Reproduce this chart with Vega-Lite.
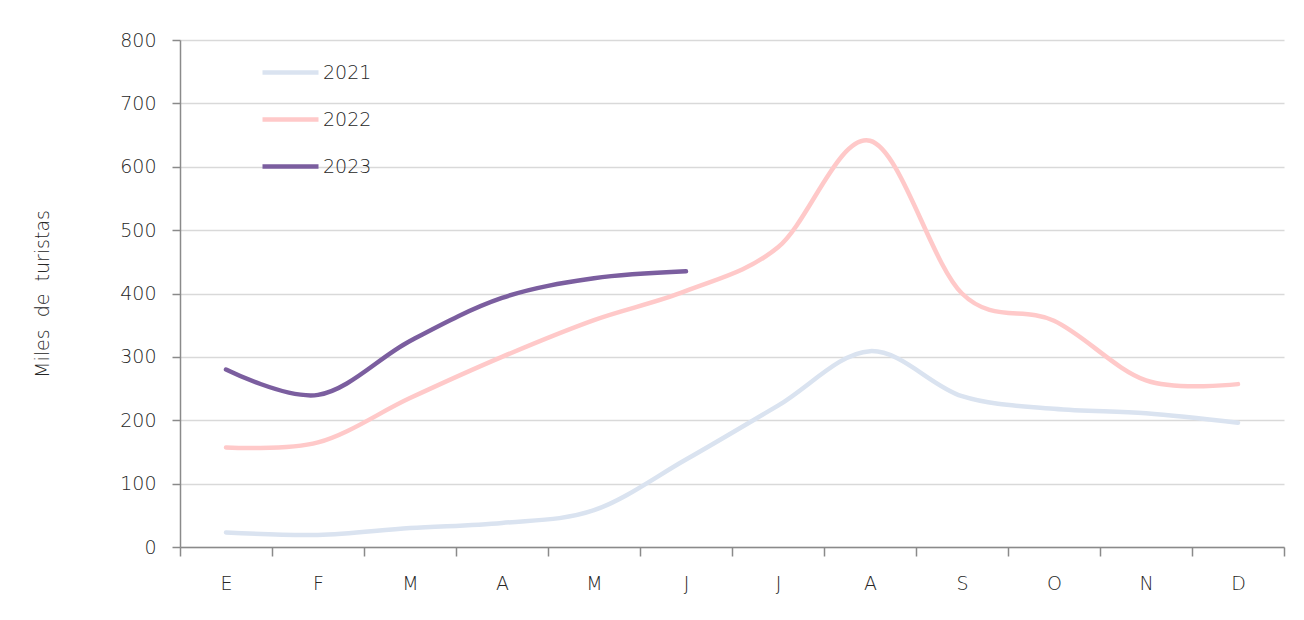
{
  "$schema": "https://vega.github.io/schema/vega-lite/v6.json",
  "width": 1104,
  "height": 507,
  "autosize": {"type": "none"},
  "padding": {"left": 180, "top": 40, "right": 20, "bottom": 73},
  "background": "white",
  "data": {
    "values": [
      {"m": 1, "year": "2021", "v": 23},
      {"m": 2, "year": "2021", "v": 19},
      {"m": 3, "year": "2021", "v": 30},
      {"m": 4, "year": "2021", "v": 38},
      {"m": 5, "year": "2021", "v": 58},
      {"m": 6, "year": "2021", "v": 138},
      {"m": 7, "year": "2021", "v": 223},
      {"m": 8, "year": "2021", "v": 309},
      {"m": 9, "year": "2021", "v": 238},
      {"m": 10, "year": "2021", "v": 218},
      {"m": 11, "year": "2021", "v": 211},
      {"m": 12, "year": "2021", "v": 196},
      {"m": 1, "year": "2022", "v": 157},
      {"m": 2, "year": "2022", "v": 165},
      {"m": 3, "year": "2022", "v": 235},
      {"m": 4, "year": "2022", "v": 300},
      {"m": 5, "year": "2022", "v": 358},
      {"m": 6, "year": "2022", "v": 404},
      {"m": 7, "year": "2022", "v": 473},
      {"m": 8, "year": "2022", "v": 641},
      {"m": 9, "year": "2022", "v": 400},
      {"m": 10, "year": "2022", "v": 357},
      {"m": 11, "year": "2022", "v": 263},
      {"m": 12, "year": "2022", "v": 257},
      {"m": 1, "year": "2023", "v": 280},
      {"m": 2, "year": "2023", "v": 240},
      {"m": 3, "year": "2023", "v": 325},
      {"m": 4, "year": "2023", "v": 393},
      {"m": 5, "year": "2023", "v": 424},
      {"m": 6, "year": "2023", "v": 435}
    ]
  },
  "mark": {"type": "line", "interpolate": "cardinal", "strokeCap": "round", "strokeJoin": "round"},
  "encoding": {
    "x": {
      "field": "m",
      "type": "ordinal",
      "scale": {"type": "band", "paddingInner": 0, "paddingOuter": 0},
      "axis": {
        "title": null,
        "labelAngle": 0,
        "labelExpr": "['E','F','M','A','M','J','J','A','S','O','N','D'][datum.value-1]",
        "tickBand": "extent",
        "tickSize": 9,
        "labelPadding": 18,
        "grid": false
      }
    },
    "y": {
      "field": "v",
      "type": "quantitative",
      "scale": {"domain": [0, 800]},
      "axis": {
        "title": "Miles\u00a0 de\u00a0 turistas",
        "values": [0, 100, 200, 300, 400, 500, 600, 700, 800],
        "tickSize": 8,
        "labelPadding": 16,
        "titlePadding": 67,
        "grid": true
      }
    },
    "stroke": {
      "field": "year",
      "type": "nominal",
      "scale": {"domain": ["2021", "2022", "2023"], "range": ["#dae3f0", "#ffc9c9", "#7b5e9f"]},
      "legend": {
        "title": null,
        "orient": "none",
        "legendX": 80,
        "legendY": 2,
        "symbolType": "stroke",
        "symbolSize": 3136,
        "rowPadding": 6,
        "labelOffset": 2,
        "padding": 0,
        "offset": 0
      }
    },
    "strokeWidth": {
      "field": "year",
      "type": "nominal",
      "scale": {"domain": ["2021", "2022", "2023"], "range": [4.5, 4.5, 6]},
      "legend": {
        "title": null,
        "orient": "none",
        "legendX": 80,
        "legendY": 2,
        "symbolType": "stroke",
        "symbolSize": 3136,
        "rowPadding": 6,
        "labelOffset": 2,
        "padding": 0,
        "offset": 0
      }
    }
  },
  "config": {
    "view": {"stroke": null},
    "font": "DejaVu Sans",
    "axis": {
      "labelFont": "DejaVu Sans",
      "labelFontSize": 19,
      "labelFontWeight": 300,
      "labelColor": "#262626",
      "titleFont": "DejaVu Sans",
      "titleFontSize": 19,
      "titleFontWeight": 300,
      "titleColor": "#262626",
      "domainColor": "#8a8a8a",
      "domainWidth": 1.5,
      "tickColor": "#8a8a8a",
      "tickWidth": 1.5,
      "gridColor": "#d9d9d9",
      "gridWidth": 1.5
    },
    "legend": {
      "labelFont": "DejaVu Sans",
      "labelFontSize": 19,
      "labelFontWeight": 300,
      "labelColor": "#262626"
    }
  }
}
